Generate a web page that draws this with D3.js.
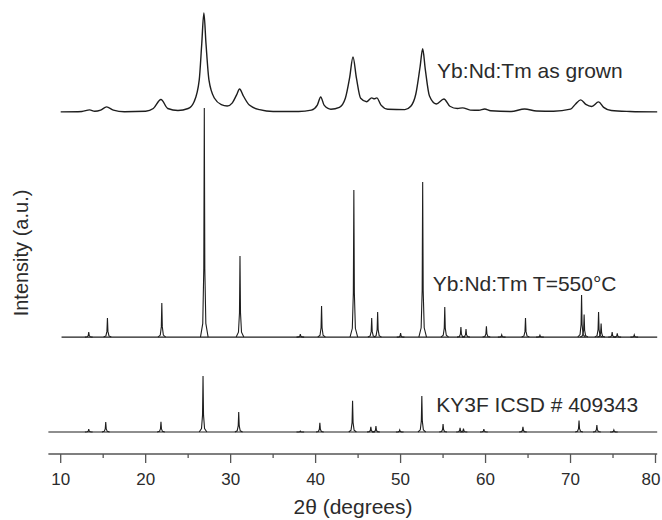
<!DOCTYPE html>
<html>
<head>
<meta charset="utf-8">
<script src="https://cdn.jsdelivr.net/npm/d3@7"></script>
<style>
  body { margin: 0; background: #fff; }
  text { font-family: "Liberation Sans", Arial, sans-serif; fill: #2b2b2b; }
</style>
</head>
<body>
<div id="chart"></div>
<script>
// XRD patterns (intensity in a.u., above each trace's own baseline)

// as grown: broad peaks, sampled points [2theta, intensity]
const asGrown = [
  [10, 0], [12.5, 0.2], [13.4, 0.9], [14.0, 0.3], [14.7, 0.8], [15.4, 2.2], [16.2, 0.8], [17.5, 0.1],
  [20.0, 0.3], [20.9, 1.5], [21.8, 5.5], [22.6, 1.5], [23.8, 0.6], [25.0, 1.5], [25.7, 4.5],
  [26.3, 14], [26.6, 30], [26.85, 43.6], [27.1, 30], [27.45, 14], [28.1, 6], [28.9, 3.2],
  [29.6, 2.6], [30.2, 4], [30.7, 7.5], [31.05, 10.1], [31.5, 7], [32.2, 3], [33.4, 1],
  [35, 0.2], [38, 0.2], [39.5, 0.8], [40.2, 3], [40.6, 6.6], [41.0, 3], [41.8, 1.2],
  [42.8, 2], [43.5, 6], [44.0, 15], [44.4, 24.2], [44.8, 15], [45.3, 6], [46.0, 4.5],
  [46.6, 6.2], [46.9, 5.8], [47.2, 6.2], [47.7, 3], [48.5, 1.2], [50.5, 1.0], [51.2, 2.5],
  [51.8, 8], [52.3, 20], [52.6, 27.8], [52.9, 19], [53.4, 7], [54.2, 3.5], [55.1, 5.7],
  [55.8, 2.5], [56.7, 1.5], [57.3, 1.8], [58.2, 0.8], [59.2, 0.7], [59.9, 1.3], [60.6, 0.5],
  [63.0, 0.2], [64.6, 1.3], [66.0, 0.4], [68.0, 0.3], [70.0, 1.2], [70.6, 3.5], [71.2, 5.3],
  [71.8, 3.3], [72.5, 2.4], [73.3, 4.4], [73.9, 2.0], [74.8, 0.6], [77.0, 0.2], [80.2, 0]
];

// annealed T=550°C: sharp peaks
const t550Pos = [13.3, 15.5, 21.9, 26.9, 31.1, 38.2, 40.7, 44.5, 46.6, 47.3, 50.0, 52.6, 55.2,
  57.1, 57.7, 60.1, 61.9, 64.7, 66.4, 71.3, 71.6, 73.3, 73.6, 74.9, 75.5, 77.5];
const t550Int = [2.2, 8.4, 15, 100.9, 35.7, 1.3, 13.7, 64.8, 8.4, 11, 1.8, 68.3, 13.2,
  4.4, 3.5, 4.8, 1.0, 8.4, 0.8, 18.5, 10, 11, 6, 2.2, 1.6, 1.0];

// KY3F reference, ICSD # 409343
const kyPos = [13.3, 15.3, 21.8, 26.75, 30.95, 38.2, 40.5, 44.35, 46.5, 47.1, 49.9, 52.5, 55.0,
  57.0, 57.4, 59.8, 64.4, 71.0, 73.1, 75.1];
const kyInt = [1.3, 4.4, 4.5, 24.7, 8.8, 0.4, 4.0, 13.8, 2.3, 2.6, 0.9, 15.9, 3.5,
  1.8, 1.5, 1.3, 2.3, 5.0, 3.1, 0.9];

const offsets = [150.7, 51.5, 9.7];
const labels = ["Yb:Nd:Tm as grown", "Yb:Nd:Tm T=550°C", "KY3F ICSD # 409343"];
const xTicks = [10, 20, 30, 40, 50, 60, 70, 80];

const width = 662, height = 520;
const svg = d3.select("#chart").append("svg")
  .attr("width", width).attr("height", height);

const x = d3.scaleLinear().domain([10, 80]).range([60.7, 655.5]);
const y = d3.scaleLinear().domain([0, 200]).range([454, 0]);

const line = d3.line()
  .x(d => x(d[0]))
  .y(d => y(d[1]));

// broad pattern
svg.append("path")
  .datum(asGrown.map(d => [d[0], d[1] + offsets[0]]))
  .attr("fill", "none")
  .attr("stroke", "#1e1e1e")
  .attr("stroke-width", 1.4)
  .attr("d", line.curve(d3.curveMonotoneX));

// sharp patterns: baseline + a spike per peak
const spike = [[-0.45, 0], [-0.18, 0.06], [-0.06, 0.3], [0, 1], [0.06, 0.3], [0.18, 0.06], [0.45, 0]];
const spikeLine = d3.line().x(d => x(d[0])).y(d => y(d[1]));

function drawSharp(pos, val, off, x0, x1) {
  const g = svg.append("g")
    .attr("fill", "none")
    .attr("stroke", "#1e1e1e")
    .attr("stroke-width", 1.1);
  g.append("path").attr("d", spikeLine([[x0, off], [x1, off]]));
  pos.forEach((p, i) => {
    g.append("path")
      .attr("d", spikeLine(spike.map(s => [p + s[0], off + s[1] * val[i]])));
  });
}
drawSharp(t550Pos, t550Int, offsets[1], 10.1, 80.2);
drawSharp(kyPos, kyInt, offsets[2], 8.55, 80.2);

// labels
const labelPos = [[54.3, 165.6], [53.8, 71.8], [54.2, 18.4]];
labels.forEach((t, i) => {
  svg.append("text")
    .attr("x", x(labelPos[i][0]))
    .attr("y", y(labelPos[i][1]))
    .attr("font-size", 21)
    .text(t);
});

// x axis
svg.append("line")
  .attr("x1", x(8.55)).attr("x2", x(80.2))
  .attr("y1", 454).attr("y2", 454)
  .attr("stroke", "#555").attr("stroke-width", 1.6);

const minor = d3.range(15, 80, 10);
svg.selectAll(".minor").data(minor).enter().append("line")
  .attr("x1", d => x(d)).attr("x2", d => x(d))
  .attr("y1", 454).attr("y2", 458)
  .attr("stroke", "#555").attr("stroke-width", 1.3);
svg.selectAll(".major").data(xTicks).enter().append("line")
  .attr("x1", d => x(d)).attr("x2", d => x(d))
  .attr("y1", 454).attr("y2", 463)
  .attr("stroke", "#555").attr("stroke-width", 1.3);
svg.selectAll(".tick").data(xTicks).enter().append("text")
  .attr("x", d => Math.min(x(d), 651))
  .attr("y", 485)
  .attr("text-anchor", "middle")
  .attr("font-size", 17)
  .text(d => d);

svg.append("text")
  .attr("x", 353).attr("y", 514)
  .attr("text-anchor", "middle")
  .attr("font-size", 21)
  .text("2θ (degrees)");

svg.append("text")
  .attr("transform", "translate(28,253) rotate(-90)")
  .attr("text-anchor", "middle")
  .attr("font-size", 20)
  .text("Intensity (a.u.)");
</script>
</body>
</html>
